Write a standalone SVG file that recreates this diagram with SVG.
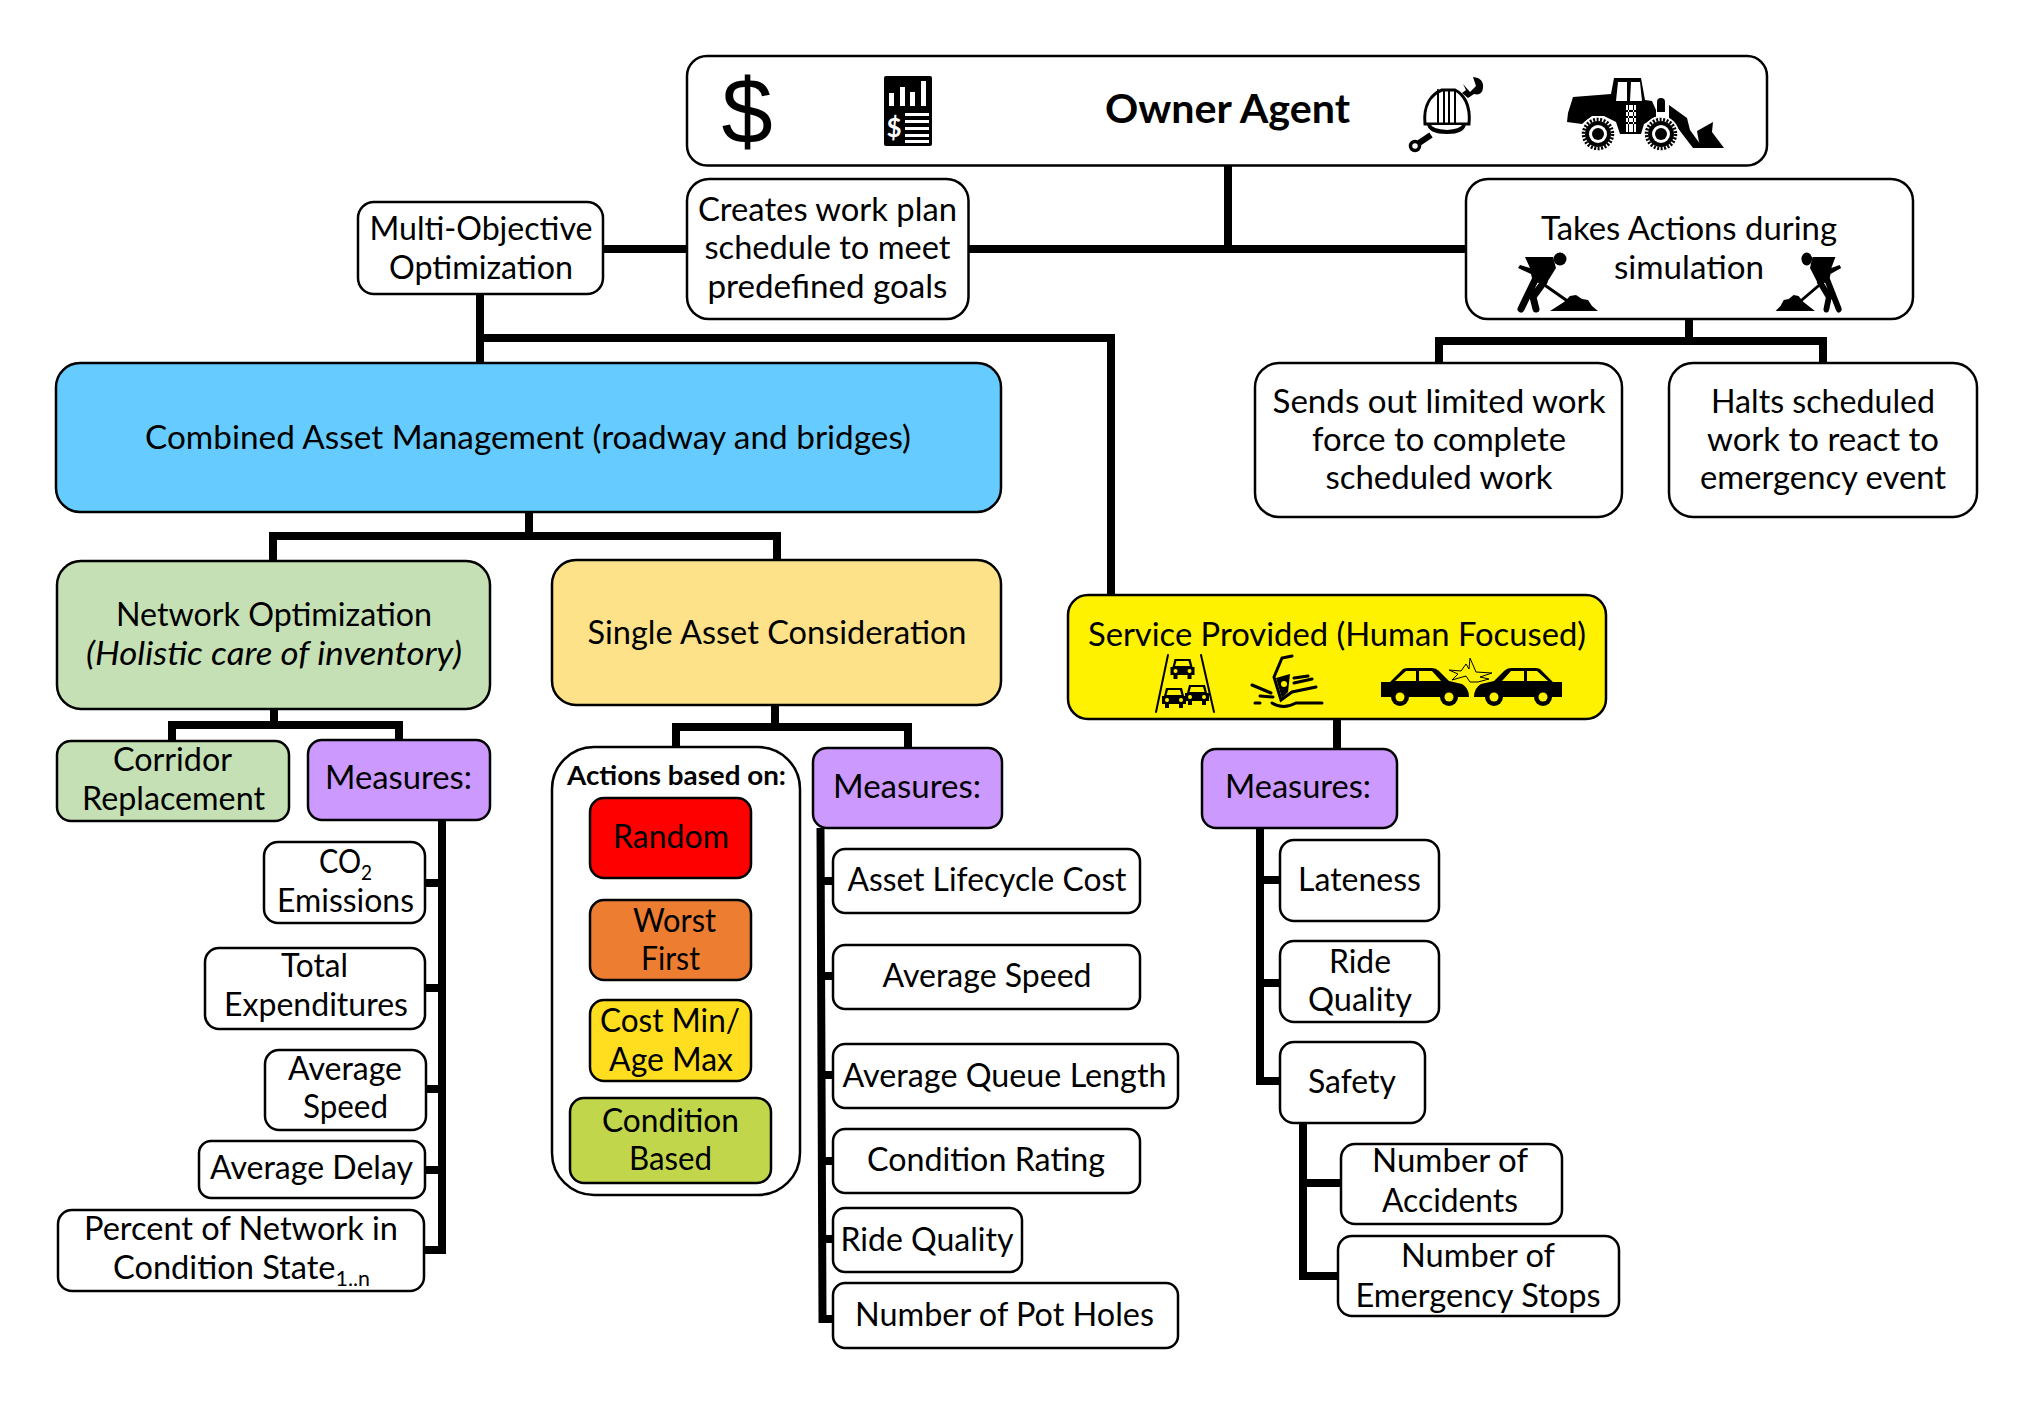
<svg xmlns="http://www.w3.org/2000/svg" xmlns:xlink="http://www.w3.org/1999/xlink" width="2033" height="1402" viewBox="0 0 2033 1402">
<style>
text{font-family:"Lato","Noto Sans",sans-serif;font-size:32px;fill:#000;text-anchor:middle}
.n{stroke:#000;stroke-width:2.5;fill:#fff}
.c{fill:none;stroke:#000;stroke-width:8;stroke-linejoin:miter}
.k{fill:#000}.w{fill:#fff}.y{fill:#fff200}
.s{fill:none;stroke:#000;stroke-linecap:round}
</style>
<defs>
<g id="worker">
<circle class="k" cx="1560" cy="259" r="6.500"/>
<path class="k" d="M1525,257L1553,257L1556,268L1546,284L1533,282L1531,274L1518,268L1520,265L1530,268Z"/>
<path class="s" stroke-width="7" d="M1535,280L1521,309M1544,282L1533,297L1536,309"/>
<path class="s" stroke-width="3" d="M1546,286L1566,300"/>
<path class="k" d="M1550,311L1564,302L1570,296L1576,295L1582,299L1588,300L1592,306L1598,311Z"/>
</g>
<g id="fcar">
<path class="k" d="M-8,-10H8L10,-2H12V6H9V10H5V6H-5V10H-9V6H-12V-2H-10Z"/>
<path class="y" d="M-6,-8H6L7.500,-3H-7.500Z"/>
<circle class="y" cx="-7" cy="2" r="2"/><circle class="y" cx="7" cy="2" r="2"/>
</g>
<g id="scar">
<path class="k" d="M1381,682L1390,682L1403,669Q1405,668 1408,668L1432,668Q1436,668 1439,671L1449,681L1462,684Q1469,688 1469,697L1381,697Z"/>
<path class="y" d="M1395,681L1406,671H1416V681ZM1419,671H1432L1441,681H1419Z"/>
<circle class="k" cx="1400" cy="697" r="9"/><circle class="y" cx="1400" cy="697" r="4.500"/>
<circle class="k" cx="1449" cy="697" r="9"/><circle class="y" cx="1449" cy="697" r="4.500"/>
</g>
<g id="wheel">
<circle fill="#fff" r="18"/>
<circle class="s" r="14.500" stroke-width="3.500" stroke-dasharray="2 1.500" style="stroke-linecap:butt"/>
<circle class="k" r="13"/><circle class="w" r="9"/><circle class="k" r="6"/>
</g>
</defs>
<rect width="2033" height="1402" fill="#fff"/>

<g id="connectors">
<path class="c" d="M1228,165V249M603,249H1466"/>
<path class="c" d="M480,294V363M480,338H1111V594"/>
<path class="c" d="M1689,319V341M1439,363V341H1823V363"/>
<path class="c" d="M529,512V536M273,561V536H777V561"/>
<path class="c" d="M274,709V725M172,740V725H399V740"/>
<path class="c" d="M775,705V727M676,747V727H908V747"/>
<path class="c" d="M1337,719V749"/>
<path class="c" d="M442,820V1254M425,883H442M425,988H442M426,1089H442M425,1170H442M424,1250H442"/>
<path class="c" d="M820.500,828L822.500,1319H833M821,881H833M821,976H833M821,1075H833M822,1161H833M822,1239H833"/>
<path class="c" d="M1260,828V1081H1280M1260,880H1280M1260,983H1280"/>
<path class="c" d="M1303,1123V1276H1338M1303,1183H1341"/>
</g>

<g id="node-owner">
<rect class="n" x="687" y="56" width="1080" height="109.500" rx="20"/>
<text x="1227.500" y="123" font-weight="700" style="font-size:40px" textLength="245" lengthAdjust="spacingAndGlyphs">Owner Agent</text>
<text x="747" y="143" style="font-family:'Liberation Sans',sans-serif;font-size:92px">$</text>
<rect class="k" x="884" y="76" width="48" height="70" rx="2"/>
<path class="w" d="M889,93h5v13h-5zM900,87h5v19h-5zM910,92h5v14h-5zM921,81h5v25h-5zM905,113h24v3h-24zM905,120h24v3h-24zM905,127h24v3h-24zM905,134h24v3h-24zM905,140h24v3h-24z"/>
<text x="894" y="137" font-weight="700" style="font-size:26px;fill:#fff">$</text>
<path class="w" stroke="#000" stroke-width="3" d="M1425,124C1423,104 1432,94 1442,90H1455C1463,94 1471,104 1469,124Z"/>
<path class="s" stroke-width="2" d="M1438,123V90M1444,123V90M1449,123V90M1455,123V90"/>
<path class="k" d="M1427,124H1466Q1465,134 1447,134Q1428,134 1427,124Z"/>
<path class="w" d="M1431,125H1462Q1460,129 1447,130Q1433,129 1431,125Z"/>
<path class="s" stroke-width="6" d="M1431,135L1419,143" style="stroke-linecap:butt"/>
<circle cx="1415" cy="146" r="4.500" fill="#fff" stroke="#000" stroke-width="3.500"/>
<path class="k" d="M1463,84L1470,92L1476,86L1473,77Q1484,78 1483,88Q1482,96 1474,94L1468,98L1462,93L1466,90Z"/>
<path class="k" d="M1573,97L1611,94L1614,78H1641L1645,100L1652,101L1656,110V117L1644,124L1641,134H1620L1616,122L1604,116H1592L1582,124L1567,122L1568,113Z"/>
<path class="w" d="M1618,82H1627V101H1616ZM1631,82H1640L1642,101H1630ZM1626,105H1636V132H1626Z"/>
<path class="k" d="M1626,110H1636V112H1626ZM1626,116H1636V118H1626ZM1626,122H1636V124H1626ZM1628,105V132H1629V105ZM1633,105V132H1634V105Z"/>
<circle class="k" cx="1661" cy="102" r="4"/><path class="k" d="M1657,102H1665V112H1657Z"/>
<path class="k" d="M1669,105L1687,118L1690,130L1703,148H1693L1677,127L1669,122Z"/>
<path class="k" d="M1697,131L1713,122L1712,132L1724,148H1700Z"/>
<use xlink:href="#wheel" href="#wheel" transform="translate(1598,134)"/>
<use xlink:href="#wheel" href="#wheel" transform="translate(1661,134)"/>
</g>

<g id="node-multi"><rect class="n" x="358" y="202" width="245" height="92" rx="16"/>
<text x="481" y="240" textLength="223" lengthAdjust="spacingAndGlyphs">Multi-Objective</text>
<text x="481" y="279" textLength="184" lengthAdjust="spacingAndGlyphs">Optimization</text></g>

<g id="node-creates"><rect class="n" x="687" y="179" width="281.500" height="140" rx="22"/>
<text x="827.500" y="221" textLength="259" lengthAdjust="spacingAndGlyphs">Creates work plan</text>
<text x="827.500" y="259" textLength="246" lengthAdjust="spacingAndGlyphs">schedule to meet</text>
<text x="827.500" y="298" textLength="240" lengthAdjust="spacingAndGlyphs">predefined goals</text></g>

<g id="node-takes"><rect class="n" x="1466" y="179" width="447" height="140" rx="22"/>
<text x="1689" y="240" textLength="296" lengthAdjust="spacingAndGlyphs">Takes Actions during</text>
<text x="1689" y="279" textLength="150" lengthAdjust="spacingAndGlyphs">simulation</text>
<use xlink:href="#worker" href="#worker"/>
<use xlink:href="#worker" href="#worker" transform="translate(1842,0) scale(-0.82,1) translate(-1517,0)"/></g>

<g id="node-sends"><rect class="n" x="1255" y="363" width="367" height="154" rx="24"/>
<text x="1439" y="413" textLength="333" lengthAdjust="spacingAndGlyphs">Sends out limited work</text>
<text x="1439" y="451" textLength="254" lengthAdjust="spacingAndGlyphs">force to complete</text>
<text x="1439" y="489" textLength="227" lengthAdjust="spacingAndGlyphs">scheduled work</text></g>

<g id="node-halts"><rect class="n" x="1669" y="363" width="308" height="154" rx="24"/>
<text x="1823" y="413" textLength="224" lengthAdjust="spacingAndGlyphs">Halts scheduled</text>
<text x="1823" y="451" textLength="232" lengthAdjust="spacingAndGlyphs">work to react to</text>
<text x="1823" y="489" textLength="246" lengthAdjust="spacingAndGlyphs">emergency event</text></g>

<g id="node-combined"><rect class="n" style="fill:#66ccff" x="56" y="363" width="945" height="149" rx="24"/>
<text x="528" y="449" textLength="766" lengthAdjust="spacingAndGlyphs">Combined  Asset Management (roadway and bridges)</text></g>

<g id="node-network"><rect class="n" style="fill:#c5e0b4" x="57" y="561" width="433" height="148" rx="24"/>
<text x="274" y="626" textLength="316" lengthAdjust="spacingAndGlyphs">Network Optimization</text>
<text x="274" y="665" font-style="italic" textLength="376" lengthAdjust="spacingAndGlyphs">(Holistic care of inventory)</text></g>

<g id="node-single"><rect class="n" style="fill:#fde28a" x="552" y="560" width="449" height="145" rx="24"/>
<text x="777" y="644" textLength="379" lengthAdjust="spacingAndGlyphs">Single Asset Consideration</text></g>

<g id="node-service"><rect class="n" style="fill:#fff200" x="1068" y="595" width="538" height="124" rx="20"/>
<text x="1337" y="646" textLength="498" lengthAdjust="spacingAndGlyphs">Service Provided (Human Focused)</text>
<path class="s" stroke-width="2" d="M1168,655L1156,712M1201,655L1214,712"/>
<use xlink:href="#fcar" href="#fcar" transform="translate(1182.500,669)"/>
<use xlink:href="#fcar" href="#fcar" transform="translate(1174,698)"/>
<use xlink:href="#fcar" href="#fcar" transform="translate(1197,695)"/>
<path class="s" stroke-width="3" d="M1292,656L1282,658L1274,677L1281,700L1292,692L1316,687M1294,678L1308,676M1294,683L1312,679M1272,703Q1283,710 1296,703L1322,703M1252,685L1271,693M1260,696L1273,697M1255,703L1260,703"/>
<path class="k" d="M1276,678L1290,674L1288,692L1282,698Z"/>
<circle class="y" cx="1284" cy="684" r="3"/>
<use xlink:href="#scar" href="#scar"/>
<use xlink:href="#scar" href="#scar" transform="translate(2943,0) scale(-1,1)"/>
<path fill="#fff200" stroke="#000" stroke-width="1" d="M1449,670L1461,671L1466,664L1469,669L1470,658L1476,672L1492,673L1480,677L1489,679L1478,682L1470,682L1466,676L1452,680L1458,674Z"/></g>

<g id="node-corridor"><rect class="n" style="fill:#c5e0b4" x="57" y="741" width="232" height="80" rx="14"/>
<text x="172.500" y="771" textLength="119" lengthAdjust="spacingAndGlyphs">Corridor</text>
<text x="173.500" y="810" textLength="183" lengthAdjust="spacingAndGlyphs">Replacement</text></g>

<g id="node-measures1"><rect class="n" style="fill:#cc99ff" x="308" y="740" width="182" height="80" rx="14"/>
<text x="398.500" y="789" textLength="147" lengthAdjust="spacingAndGlyphs">Measures:</text></g>

<g id="node-co2"><rect class="n" x="264" y="842" width="161" height="81" rx="14"/>
<text x="345.500" y="873" textLength="53" lengthAdjust="spacingAndGlyphs">CO<tspan dy="7" style="font-size:21px">2</tspan></text>
<text x="345.500" y="912" textLength="137" lengthAdjust="spacingAndGlyphs">Emissions</text></g>

<g id="node-total"><rect class="n" x="205" y="948" width="220" height="81" rx="14"/>
<text x="314.500" y="977" textLength="67" lengthAdjust="spacingAndGlyphs">Total</text>
<text x="316" y="1016" textLength="184" lengthAdjust="spacingAndGlyphs">Expenditures</text></g>

<g id="node-avgspeed1"><rect class="n" x="265" y="1050" width="161" height="80" rx="14"/>
<text x="345" y="1080" textLength="114" lengthAdjust="spacingAndGlyphs">Average</text>
<text x="345.500" y="1118" textLength="85" lengthAdjust="spacingAndGlyphs">Speed</text></g>

<g id="node-avgdelay"><rect class="n" x="199" y="1141" width="226" height="57" rx="12"/>
<text x="311.500" y="1179" textLength="203" lengthAdjust="spacingAndGlyphs">Average Delay</text></g>

<g id="node-percent"><rect class="n" x="58" y="1210" width="366" height="81" rx="14"/>
<text x="241" y="1240" textLength="314" lengthAdjust="spacingAndGlyphs">Percent of Network in</text>
<text x="241.500" y="1279" textLength="257" lengthAdjust="spacingAndGlyphs">Condition State<tspan dy="7" style="font-size:21px">1..n</tspan></text></g>

<g id="node-actions"><rect class="n" x="552" y="747" width="248" height="448" rx="42"/>
<text x="676.500" y="785" font-weight="700" style="font-size:27px" textLength="219" lengthAdjust="spacingAndGlyphs">Actions based on:</text></g>

<g id="node-random"><rect class="n" style="fill:#ff0000" x="590" y="798" width="161" height="80" rx="14"/>
<text x="671" y="848" textLength="116" lengthAdjust="spacingAndGlyphs">Random</text></g>

<g id="node-worst"><rect class="n" style="fill:#ed7d31" x="590" y="900" width="161" height="80" rx="14"/>
<text x="674.500" y="932" textLength="83" lengthAdjust="spacingAndGlyphs">Worst</text>
<text x="670.500" y="970" textLength="59" lengthAdjust="spacingAndGlyphs">First</text></g>

<g id="node-cost"><rect class="n" style="fill:#ffde1f" x="590" y="1000" width="161" height="81" rx="14"/>
<text x="670" y="1032" textLength="140" lengthAdjust="spacingAndGlyphs">Cost Min/</text>
<text x="671" y="1071" textLength="124" lengthAdjust="spacingAndGlyphs">Age Max</text></g>

<g id="node-condition"><rect class="n" style="fill:#c1d64b" x="570" y="1098" width="201" height="85" rx="14"/>
<text x="670.500" y="1132" textLength="137" lengthAdjust="spacingAndGlyphs">Condition</text>
<text x="670.500" y="1170" textLength="83" lengthAdjust="spacingAndGlyphs">Based</text></g>

<g id="node-measures2"><rect class="n" style="fill:#cc99ff" x="813" y="748" width="189" height="80" rx="14"/>
<text x="907" y="798" textLength="148" lengthAdjust="spacingAndGlyphs">Measures:</text></g>

<g id="node-asset"><rect class="n" x="833" y="849" width="307" height="64" rx="12"/>
<text x="987" y="891" textLength="279" lengthAdjust="spacingAndGlyphs">Asset Lifecycle Cost</text></g>

<g id="node-avgspeed2"><rect class="n" x="833" y="945" width="307" height="64" rx="12"/>
<text x="987" y="987" textLength="209" lengthAdjust="spacingAndGlyphs">Average Speed</text></g>

<g id="node-queue"><rect class="n" x="833" y="1044" width="345" height="64" rx="12"/>
<text x="1004.500" y="1087" textLength="324" lengthAdjust="spacingAndGlyphs">Average Queue Length</text></g>

<g id="node-rating"><rect class="n" x="833" y="1129" width="307" height="64" rx="12"/>
<text x="986" y="1171" textLength="238" lengthAdjust="spacingAndGlyphs">Condition Rating</text></g>

<g id="node-ride"><rect class="n" x="833" y="1208" width="189" height="64" rx="12"/>
<text x="927" y="1251" textLength="173" lengthAdjust="spacingAndGlyphs">Ride Quality</text></g>

<g id="node-potholes"><rect class="n" x="833" y="1283" width="345" height="65" rx="12"/>
<text x="1004.500" y="1326" textLength="299" lengthAdjust="spacingAndGlyphs">Number of Pot Holes</text></g>

<g id="node-measures3"><rect class="n" style="fill:#cc99ff" x="1202" y="749" width="195" height="79" rx="14"/>
<text x="1298" y="798" textLength="146" lengthAdjust="spacingAndGlyphs">Measures:</text></g>

<g id="node-lateness"><rect class="n" x="1280" y="840" width="159" height="81" rx="14"/>
<text x="1359.500" y="891" textLength="123" lengthAdjust="spacingAndGlyphs">Lateness</text></g>

<g id="node-ridequality"><rect class="n" x="1280" y="941" width="159" height="81" rx="14"/>
<text x="1360" y="973" textLength="62" lengthAdjust="spacingAndGlyphs">Ride</text>
<text x="1360" y="1011" textLength="104" lengthAdjust="spacingAndGlyphs">Quality</text></g>

<g id="node-safety"><rect class="n" x="1280" y="1042" width="145" height="81" rx="14"/>
<text x="1352" y="1093" textLength="88" lengthAdjust="spacingAndGlyphs">Safety</text></g>

<g id="node-accidents"><rect class="n" x="1341" y="1144" width="221" height="80" rx="14"/>
<text x="1450" y="1172" textLength="156" lengthAdjust="spacingAndGlyphs">Number of</text>
<text x="1450" y="1212" textLength="136" lengthAdjust="spacingAndGlyphs">Accidents</text></g>

<g id="node-stops"><rect class="n" x="1338" y="1236" width="281" height="80" rx="14"/>
<text x="1478" y="1267" textLength="154" lengthAdjust="spacingAndGlyphs">Number of</text>
<text x="1478" y="1307" textLength="245" lengthAdjust="spacingAndGlyphs">Emergency Stops</text></g>
</svg>
